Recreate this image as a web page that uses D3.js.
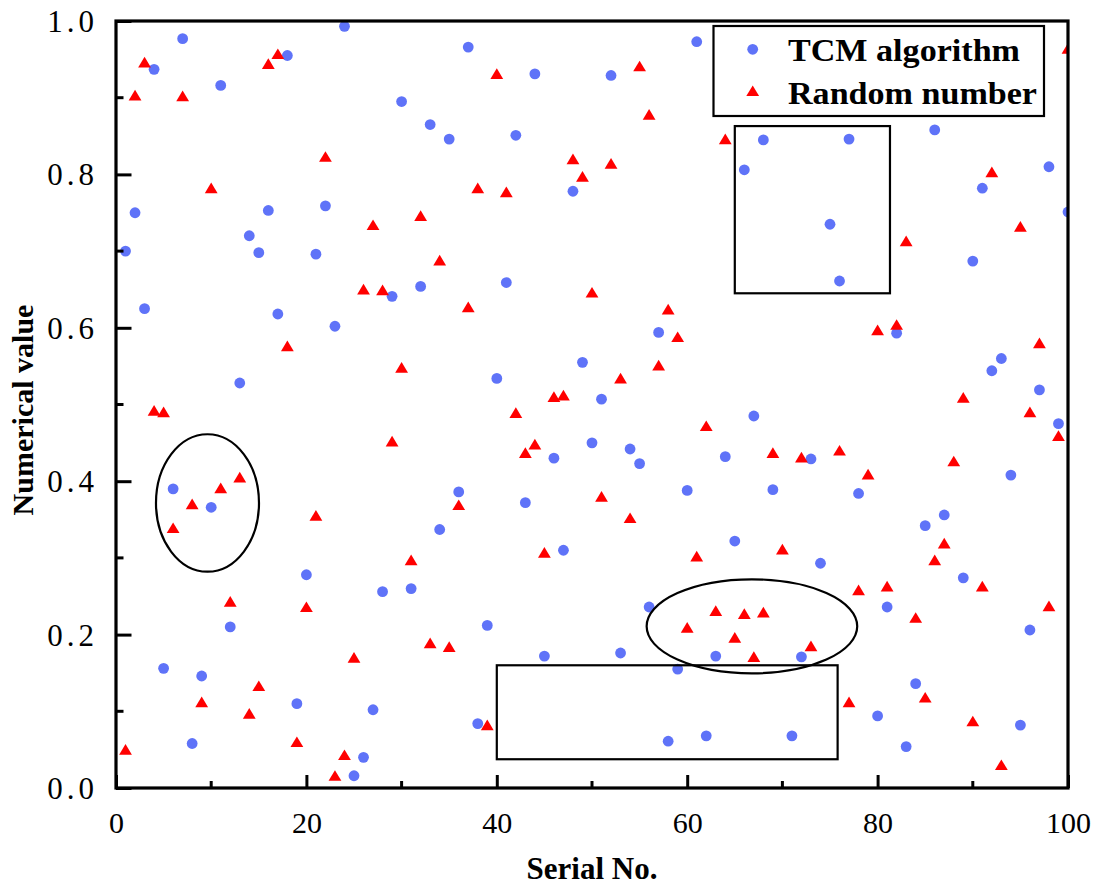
<!DOCTYPE html>
<html>
<head>
<meta charset="utf-8">
<script src="https://cdn.jsdelivr.net/npm/d3@7"></script>
<style>
  html, body { margin: 0; padding: 0; background: #fff; }
  svg { display: block; }
</style>
</head>
<body>
<div id="chart"></div>
<script>
// ---------------- data ----------------
const serialNo = d3.range(1, 101);
const tcmValues = [
  0.700, 0.750, 0.625, 0.937, 0.156, 0.390, 0.977, 0.058, 0.146, 0.366,
  0.916, 0.210, 0.528, 0.720, 0.698, 0.753, 0.618, 0.955, 0.110, 0.278,
  0.696, 0.759, 0.602, 0.993, 0.016, 0.040, 0.102, 0.256, 0.641, 0.895,
  0.260, 0.654, 0.865, 0.337, 0.846, 0.386, 0.966, 0.084, 0.212, 0.534,
  0.659, 0.851, 0.372, 0.931, 0.172, 0.430, 0.310, 0.778, 0.555, 0.450,
  0.507, 0.929, 0.176, 0.442, 0.423, 0.236, 0.594, 0.061, 0.155, 0.388,
  0.973, 0.068, 0.172, 0.432, 0.322, 0.806, 0.485, 0.845, 0.389, null,
  0.068, 0.171, 0.429, 0.293, 0.735, 0.661, 0.846, 0.384, null, 0.094,
  0.236, 0.593, 0.054, 0.136, 0.342, 0.858, 0.356, null, 0.274, 0.687,
  0.782, 0.544, 0.560, 0.408, 0.082, 0.206, 0.519, 0.810, 0.475, 0.751
];
const randomValues = [
  0.050, 0.903, 0.946, 0.492, 0.490, 0.339, 0.902, 0.370, 0.112, 0.782,
  0.391, 0.243, 0.405, 0.097, 0.133, 0.944, 0.957, 0.576, 0.060, 0.236,
  0.355, 0.823, 0.016, 0.043, 0.170, 0.650, 0.734, 0.649, 0.452, 0.548,
  0.297, 0.746, 0.189, 0.688, 0.184, 0.369, 0.627, 0.782, 0.082, 0.931,
  0.777, 0.489, 0.437, 0.448, 0.307, 0.510, 0.512, 0.820, 0.797, 0.646,
  0.380, 0.814, 0.534, 0.352, 0.941, 0.878, 0.551, 0.624, 0.588, 0.209,
  0.302, 0.472, 0.231, 0.846, 0.196, 0.227, 0.171, 0.229, 0.437, 0.311,
  null, 0.431, 0.185, null, null, 0.440, 0.112, 0.258, 0.409, 0.597,
  0.263, 0.604, 0.713, 0.222, 0.118, 0.297, 0.319, 0.426, 0.509, 0.087,
  0.263, 0.803, 0.030, null, 0.732, 0.490, 0.580, 0.237, 0.459, 0.964
];
const seriesNames = ["TCM algorithm", "Random number"];
const xTickValues = [0, 20, 40, 60, 80, 100];
const yTickValues = [0.0, 0.2, 0.4, 0.6, 0.8, 1.0];
const xMinorTicks = [10, 30, 50, 70, 90];
const yMinorTicks = [0.1, 0.3, 0.5, 0.7, 0.9];
// annotation shapes in data units
const ellipseCx = [9.61, 66.8];
const ellipseCy = [0.3716, 0.2108];
const ellipseRx = [5.41, 11.06];
const ellipseRy = [0.0896, 0.0613];
const rectX0 = [40.0, 65.0];
const rectX1 = [75.8, 81.3];
const rectY0 = [0.0375, 0.645];
const rectY1 = [0.160, 0.863];

// ---------------- layout ----------------
const W = 1099, H = 887;
const margin = {left: 116, top: 21, right: 31, bottom: 99};
const iw = W - margin.left - margin.right;
const ih = H - margin.top - margin.bottom;
const BLUE = "#5f73f8", RED = "#ff0000";
const SERIF = "'Liberation Serif', 'Times New Roman', serif";

const svg = d3.select("#chart").append("svg")
  .attr("width", W).attr("height", H);

const x = d3.scaleLinear().domain([0, 100]).range([0, iw]);
const y = d3.scaleLinear().domain([0, 1]).range([ih, 0]);

const g = svg.append("g").attr("transform", `translate(${margin.left},${margin.top})`);

svg.append("defs").append("clipPath").attr("id", "plotclip")
  .append("rect").attr("x", 0).attr("y", 0).attr("width", iw).attr("height", ih);

const plot = g.append("g").attr("clip-path", "url(#plotclip)");

const triPath = "M0,-5.6L6.4,5.1L-6.4,5.1Z";

// blue circles
plot.append("g").selectAll("circle")
  .data(serialNo.map((s, i) => ({s, v: tcmValues[i]})).filter(d => d.v != null))
  .join("circle")
  .attr("cx", d => x(d.s)).attr("cy", d => y(d.v))
  .attr("r", 5.4).attr("fill", BLUE);

// red triangles
plot.append("g").selectAll("path")
  .data(serialNo.map((s, i) => ({s, v: randomValues[i]})).filter(d => d.v != null))
  .join("path")
  .attr("d", triPath)
  .attr("transform", d => `translate(${x(d.s)},${y(d.v)})`)
  .attr("fill", RED);

// annotations
ellipseCx.forEach((cx, i) => {
  g.append("ellipse")
    .attr("cx", x(cx)).attr("cy", y(ellipseCy[i]))
    .attr("rx", x(ellipseRx[i]) - x(0)).attr("ry", y(0) - y(ellipseRy[i]))
    .attr("fill", "none").attr("stroke", "#000").attr("stroke-width", 2.2);
});
rectX0.forEach((x0, i) => {
  g.append("rect")
    .attr("x", x(x0)).attr("y", y(rectY1[i]))
    .attr("width", x(rectX1[i]) - x(x0)).attr("height", y(rectY0[i]) - y(rectY1[i]))
    .attr("fill", "none").attr("stroke", "#000").attr("stroke-width", 2.2);
});

// axes (inward ticks)
const xAxis = d3.axisBottom(x).tickValues(xTickValues).tickSize(-13).tickPadding(0).tickFormat(d3.format("d"));
const yAxis = d3.axisLeft(y).tickValues(yTickValues).tickSize(-15.5).tickPadding(0).tickFormat(d3.format(".1f"));

const gx = g.append("g").attr("transform", `translate(0,${ih})`).call(xAxis);
gx.selectAll(".tick line").attr("stroke", "#000").attr("stroke-width", 3);
gx.selectAll(".tick text").attr("font-family", SERIF).attr("font-size", 30).attr("fill", "#000")
  .attr("dy", 0).attr("y", 45);
gx.select(".domain").remove();
gx.selectAll(".minor").data(xMinorTicks).join("line").attr("class", "minor")
  .attr("x1", d => x(d)).attr("x2", d => x(d)).attr("y1", 0).attr("y2", -7)
  .attr("stroke", "#000").attr("stroke-width", 3);

const gy = g.append("g").call(yAxis);
gy.selectAll(".tick line").attr("stroke", "#000").attr("stroke-width", 3);
gy.selectAll(".tick text").attr("font-family", SERIF).attr("font-size", 31).attr("fill", "#000")
  .attr("x", -18).attr("dy", "0.34em").attr("letter-spacing", "4px");
gy.select(".domain").remove();
gy.selectAll(".minor").data(yMinorTicks).join("line").attr("class", "minor")
  .attr("x1", 0).attr("x2", 7.5).attr("y1", d => y(d)).attr("y2", d => y(d))
  .attr("stroke", "#000").attr("stroke-width", 3);

// frame
g.append("rect").attr("x", 0).attr("y", 0).attr("width", iw).attr("height", ih)
  .attr("fill", "none").attr("stroke", "#000").attr("stroke-width", 3.2);

// legend
const leg = svg.append("g");
leg.append("rect").attr("x", 713.5).attr("y", 26).attr("width", 330.5).attr("height", 90)
  .attr("fill", "#fff").attr("stroke", "#000").attr("stroke-width", 2.2);
leg.append("circle").attr("cx", 752.7).attr("cy", 49.3).attr("r", 5.4).attr("fill", BLUE);
leg.append("path").attr("d", triPath).attr("transform", "translate(752.7,91)").attr("fill", RED);
leg.append("text").attr("x", 788).attr("y", 60.7).text(seriesNames[0])
  .attr("font-family", SERIF).attr("font-weight", "bold").attr("font-size", 32)
  .attr("textLength", 232).attr("lengthAdjust", "spacingAndGlyphs");
leg.append("text").attr("x", 788).attr("y", 104).text(seriesNames[1])
  .attr("font-family", SERIF).attr("font-weight", "bold").attr("font-size", 32)
  .attr("textLength", 249).attr("lengthAdjust", "spacingAndGlyphs");

// axis titles
svg.append("text").attr("x", margin.left + iw / 2).attr("y", 879)
  .attr("text-anchor", "middle").attr("font-family", SERIF).attr("font-weight", "bold")
  .attr("font-size", 31).text("Serial No.");
svg.append("text").attr("transform", "translate(33,410) rotate(-90)")
  .attr("text-anchor", "middle").attr("font-family", SERIF).attr("font-weight", "bold")
  .attr("font-size", 30).text("Numerical value");
</script>
</body>
</html>
